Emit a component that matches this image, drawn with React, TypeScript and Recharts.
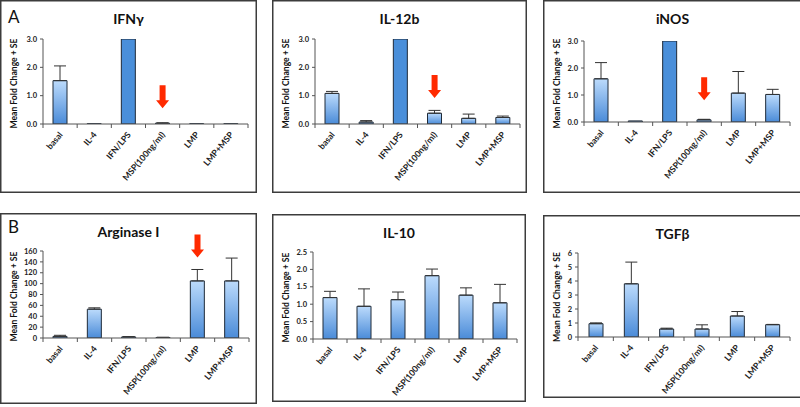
import React from 'react';
import { BarChart, Bar, XAxis, YAxis, ErrorBar, Cell, ReferenceDot } from 'recharts';

const categories = ['basal', 'IL-4', 'IFN/LPS', 'MSP(100ng/ml)', 'LMP', 'LMP+MSP'];

const ifngMean = [1.53, 0.01, 3.0, 0.03, 0.01, 0.01];
const ifngSE = [0.52, 0, 0, 0.01, 0, 0];
const il12Mean = [1.08, 0.07, 3.0, 0.38, 0.2, 0.23];
const il12SE = [0.07, 0.05, 0, 0.1, 0.15, 0.05];
const inosMean = [1.6, 0.04, 3.0, 0.08, 1.07, 1.02];
const inosSE = [0.6, 0, 0, 0.02, 0.8, 0.19];
const argMean = [3, 53, 2, 1, 105, 105];
const argSE = [2, 2.5, 0.5, 0.3, 21, 42];
const il10Mean = [1.19, 0.94, 1.13, 1.82, 1.26, 1.04];
const il10SE = [0.18, 0.5, 0.22, 0.19, 0.21, 0.53];
const tgfMean = [0.95, 3.8, 0.57, 0.57, 1.5, 0.88];
const tgfSE = [0.06, 1.55, 0.06, 0.3, 0.32, 0.02];

const ticks3 = [0, 1, 2, 3];
const ticksArg = [0, 20, 40, 60, 80, 100, 120, 140, 160];
const ticksIL10 = [0, 0.5, 1, 1.5, 2, 2.5];
const ticksTGF = [0, 1, 2, 3, 4, 5, 6];

const FONT = 'Lato, "Open Sans", "Liberation Sans", sans-serif';
const SOLID = '#4a8fda';

type Panel = {
  id: string; title: string; letter?: string; mean: number[]; se: number[];
  ticks: number[]; dec: number; solidIdx: number[]; arrowIdx?: number; arrowTip?: number;
  box: { x: number; y: number; w: number; h: number };
  plot: { l: number; r: number; t: number; b: number };
};

const panels: Panel[] = [
  { id: 'ifng', title: 'IFNγ', letter: 'A', mean: ifngMean, se: ifngSE, ticks: ticks3, dec: 1, solidIdx: [2], arrowIdx: 3, arrowTip: 0.56,
    box: { x: 0, y: 0, w: 257, h: 193 }, plot: { l: 43, r: 248, t: 39, b: 124 } },
  { id: 'il12', title: 'IL-12b', mean: il12Mean, se: il12SE, ticks: ticks3, dec: 1, solidIdx: [2], arrowIdx: 3, arrowTip: 0.92,
    box: { x: 272, y: 0, w: 255, h: 193 }, plot: { l: 315, r: 520, t: 39, b: 124 } },
  { id: 'inos', title: 'iNOS', mean: inosMean, se: inosSE, ticks: ticks3, dec: 1, solidIdx: [2], arrowIdx: 3, arrowTip: 0.81,
    box: { x: 543, y: 0, w: 259, h: 193 }, plot: { l: 584, r: 790, t: 41, b: 122 } },
  { id: 'arg', title: 'Arginase I', letter: 'B', mean: argMean, se: argSE, ticks: ticksArg, dec: 0, solidIdx: [], arrowIdx: 4, arrowTip: 148,
    box: { x: 0, y: 213, w: 257, h: 191 }, plot: { l: 43, r: 249, t: 251, b: 338 } },
  { id: 'il10', title: 'IL-10', mean: il10Mean, se: il10SE, ticks: ticksIL10, dec: 1, solidIdx: [],
    box: { x: 272, y: 214, w: 254, h: 188 }, plot: { l: 313, r: 517, t: 252, b: 339 } },
  { id: 'tgf', title: 'TGFβ', mean: tgfMean, se: tgfSE, ticks: ticksTGF, dec: 0, solidIdx: [],
    box: { x: 543, y: 215, w: 259, h: 183 }, plot: { l: 578, r: 790, t: 253, b: 337 } },
];

const Arrow = (props: any) => {
  const { cx, cy } = props;
  if (cx == null || cy == null) return null;
  const pts = [
    [cx - 3, cy - 23], [cx + 3, cy - 23], [cx + 3, cy - 8], [cx + 6.5, cy - 8],
    [cx, cy], [cx - 6.5, cy - 8], [cx - 3, cy - 8],
  ].map((p) => p.join(',')).join(' ');
  return <polygon points={pts} fill="#ff2a00" />;
};

const XTick = (props: any) => {
  const { x, y, payload, index, band } = props;
  const tx = x + 3;
  const ty = y + 11;
  return (
    <g>
      <line x1={x - band / 2} x2={x - band / 2} y1={y} y2={y + 4} stroke="#555" strokeWidth={1} />
      {index === categories.length - 1 && (
        <line x1={x + band / 2} x2={x + band / 2} y1={y} y2={y + 4} stroke="#555" strokeWidth={1} />
      )}
      <text x={tx} y={ty} transform={`rotate(-50 ${tx} ${ty})`} textAnchor="end"
        fontSize={8.6} fontWeight={700} fill="#222" fontFamily={FONT}>
        {payload.value}
      </text>
    </g>
  );
};

const ChartPanel = ({ p }: { p: Panel }) => {
  const data = categories.map((name, i) => ({ name, mean: p.mean[i], err: p.se[i] > 0 ? [0, p.se[i]] : null }));
  const band = (p.plot.r - p.plot.l) / categories.length;
  const yw = p.plot.l - p.box.x;
  const xh = p.box.y + p.box.h - p.plot.b;
  const gid = `grad-${p.id}`;
  const max = p.ticks[p.ticks.length - 1];
  return (
    <div style={{ position: 'absolute', left: p.box.x, top: p.box.y, width: p.box.w, height: p.box.h }}>
      <BarChart width={p.box.w} height={p.box.h} data={data}
        margin={{ top: p.plot.t - p.box.y, right: p.box.x + p.box.w - p.plot.r, left: 0, bottom: 0 }}>
        <defs>
          <linearGradient id={gid} x1="0" y1="0" x2="0" y2="1">
            <stop offset="0%" stopColor="#bcdbfc" />
            <stop offset="100%" stopColor="#4a8bd8" />
          </linearGradient>
        </defs>
        <XAxis dataKey="name" interval={0} height={xh} tickLine={false} tickSize={0} tickMargin={0}
          axisLine={{ stroke: '#555', strokeWidth: 1 }}
          tick={(tp: any) => <XTick {...tp} band={band} />} />
        <YAxis width={yw} domain={[0, max]} ticks={p.ticks} interval={0} allowDataOverflow
          tickSize={3} tickMargin={3} axisLine={{ stroke: '#555', strokeWidth: 1 }}
          tickLine={{ stroke: '#555', strokeWidth: 1 }}
          tick={{ fontSize: 7.5, fontWeight: 700, fill: '#222', fontFamily: FONT }}
          tickFormatter={(v: number) => v.toFixed(p.dec)} />
        <Bar dataKey="mean" barSize={14} fill={`url(#${gid})`} stroke="#1e2a38" strokeWidth={1}
          isAnimationActive={false}>
          {data.map((d, i) => (
            <Cell key={d.name} fill={p.solidIdx.includes(i) ? SOLID : `url(#${gid})`} />
          ))}
          <ErrorBar dataKey="err" width={6} stroke="#333" strokeWidth={1} direction="y" />
        </Bar>
        {p.arrowIdx != null && (
          <ReferenceDot x={categories[p.arrowIdx]} y={p.arrowTip} r={0} ifOverflow="visible"
            shape={(sp: any) => <Arrow {...sp} />} />
        )}
      </BarChart>
    </div>
  );
};

export default function App() {
  return (
    <div style={{ position: 'absolute', left: 0, top: 0, width: 800, height: 407, background: '#fff', fontFamily: FONT, overflow: 'hidden' }}>
      {panels.map((p) => <ChartPanel key={p.id} p={p} />)}
      <svg width={800} height={407} style={{ position: 'absolute', left: 0, top: 0, pointerEvents: 'none' }}>
        {panels.map((p) => {
          const cx = p.box.x + p.box.w / 2;
          const ly = (p.plot.t + p.plot.b) / 2 + 2;
          const lx = p.box.x + 14;
          return (
            <g key={p.id}>
              <rect x={p.box.x + 0.75} y={p.box.y + 0.75} width={p.box.w - 1.5} height={p.box.h - 1.5}
                fill="none" stroke="#3c3c3c" strokeWidth={1.5} />
              <text x={cx} y={p.box.y + 24} textAnchor="middle" fontSize={14} fontWeight={700} fill="#111" fontFamily={FONT}>
                {p.title}
              </text>
              <text x={lx} y={ly} transform={`rotate(-90 ${lx} ${ly})`} textAnchor="middle" dominantBaseline="central"
                fontSize={8.6} fontWeight={700} fill="#111" fontFamily={FONT}>
                Mean Fold Change + SE
              </text>
              {p.letter && (
                <text x={p.box.x + 8} y={p.box.y + (p.letter === 'A' ? 23 : 20)} fontSize={17} fill="#111" fontFamily={FONT}>
                  {p.letter}
                </text>
              )}
            </g>
          );
        })}
      </svg>
    </div>
  );
}
